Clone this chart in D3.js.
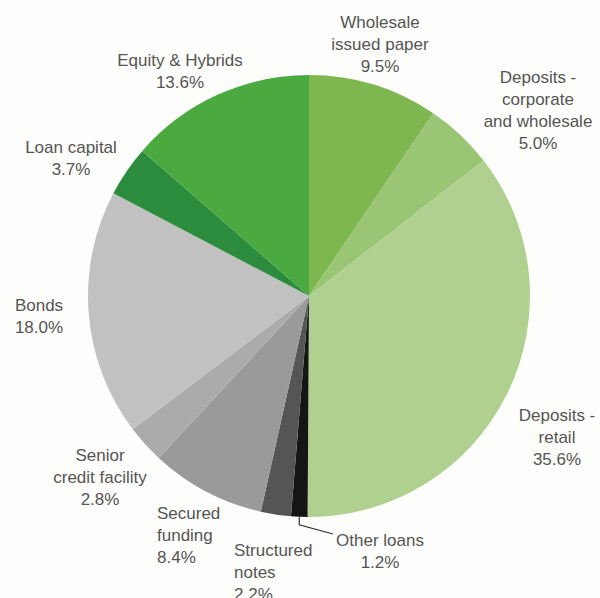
<!DOCTYPE html>
<html>
<head>
<meta charset="utf-8">
<script src="https://cdn.jsdelivr.net/npm/d3@7"></script>
<style>
  body { margin: 0; background: #fdfdfb; }
  svg text { font-family: "Liberation Sans", Arial, sans-serif; font-size: 17px; fill: #555; }
</style>
</head>
<body>
<svg id="chart" width="600" height="598"></svg>
<script>
// data, clockwise from 12 o'clock
var categories = [
    ['Wholesale', 'issued paper'],
    ['Deposits -', 'corporate', 'and wholesale'],
    ['Deposits -', 'retail'],
    ['Other loans'],
    ['Structured', 'notes'],
    ['Secured', 'funding'],
    ['Senior', 'credit facility'],
    ['Bonds'],
    ['Loan capital'],
    ['Equity & Hybrids']
];
var shares = [9.5, 5.0, 35.6, 1.2, 2.2, 8.4, 2.8, 18.0, 3.7, 13.6];

var colors = ['#7eb650', '#9ac575', '#afd08f', '#151515', '#555555',
              '#999b9a', '#aaacab', '#c1c1c1', '#2a8c3c', '#4aa93f'];

// label placement: [x, y of first line, text-anchor]
var labelLayout = [
    [380, 28, 'middle'],
    [538, 83, 'middle'],
    [557, 421, 'middle'],
    [380, 546, 'middle'],
    [234, 556, 'start'],
    [157, 519, 'start'],
    [100, 461, 'middle'],
    [39, 311, 'middle'],
    [71, 153, 'middle'],
    [180, 66, 'middle']
];

var cx = 309, cy = 296, radius = 221;
var lineHeight = 22;

var svg = d3.select('#chart');
var g = svg.append('g').attr('transform', 'translate(' + cx + ',' + cy + ')');

var pie = d3.pie().sort(null).value(function(d) { return d; });
var arc = d3.arc().innerRadius(0).outerRadius(radius);

g.selectAll('path.slice')
    .data(pie(shares))
    .enter().append('path')
    .attr('class', 'slice')
    .attr('d', arc)
    .attr('fill', function(d, i) { return colors[i]; });

// leader for the thin "Other loans" slice
var other = pie(shares)[3];
var mid = (other.startAngle + other.endAngle) / 2;
var px = Math.sin(mid) * radius, py = -Math.cos(mid) * radius;
svg.append('path')
    .attr('d', 'M' + (cx + px) + ',' + (cy + py) +
               ' L' + (cx + px) + ',' + (cy + py + 8) +
               ' L333,534')
    .attr('fill', 'none')
    .attr('stroke', '#333')
    .attr('stroke-width', 1.2);

var labels = svg.selectAll('text.label')
    .data(categories)
    .enter().append('text')
    .attr('class', 'label')
    .attr('text-anchor', function(d, i) { return labelLayout[i][2]; });

labels.each(function(lines, i) {
    var t = d3.select(this);
    var x = labelLayout[i][0], y = labelLayout[i][1];
    lines.concat([shares[i].toFixed(1) + '%']).forEach(function(s, k) {
        t.append('tspan').attr('x', x).attr('y', y + k * lineHeight).text(s);
    });
});
</script>
</body>
</html>
